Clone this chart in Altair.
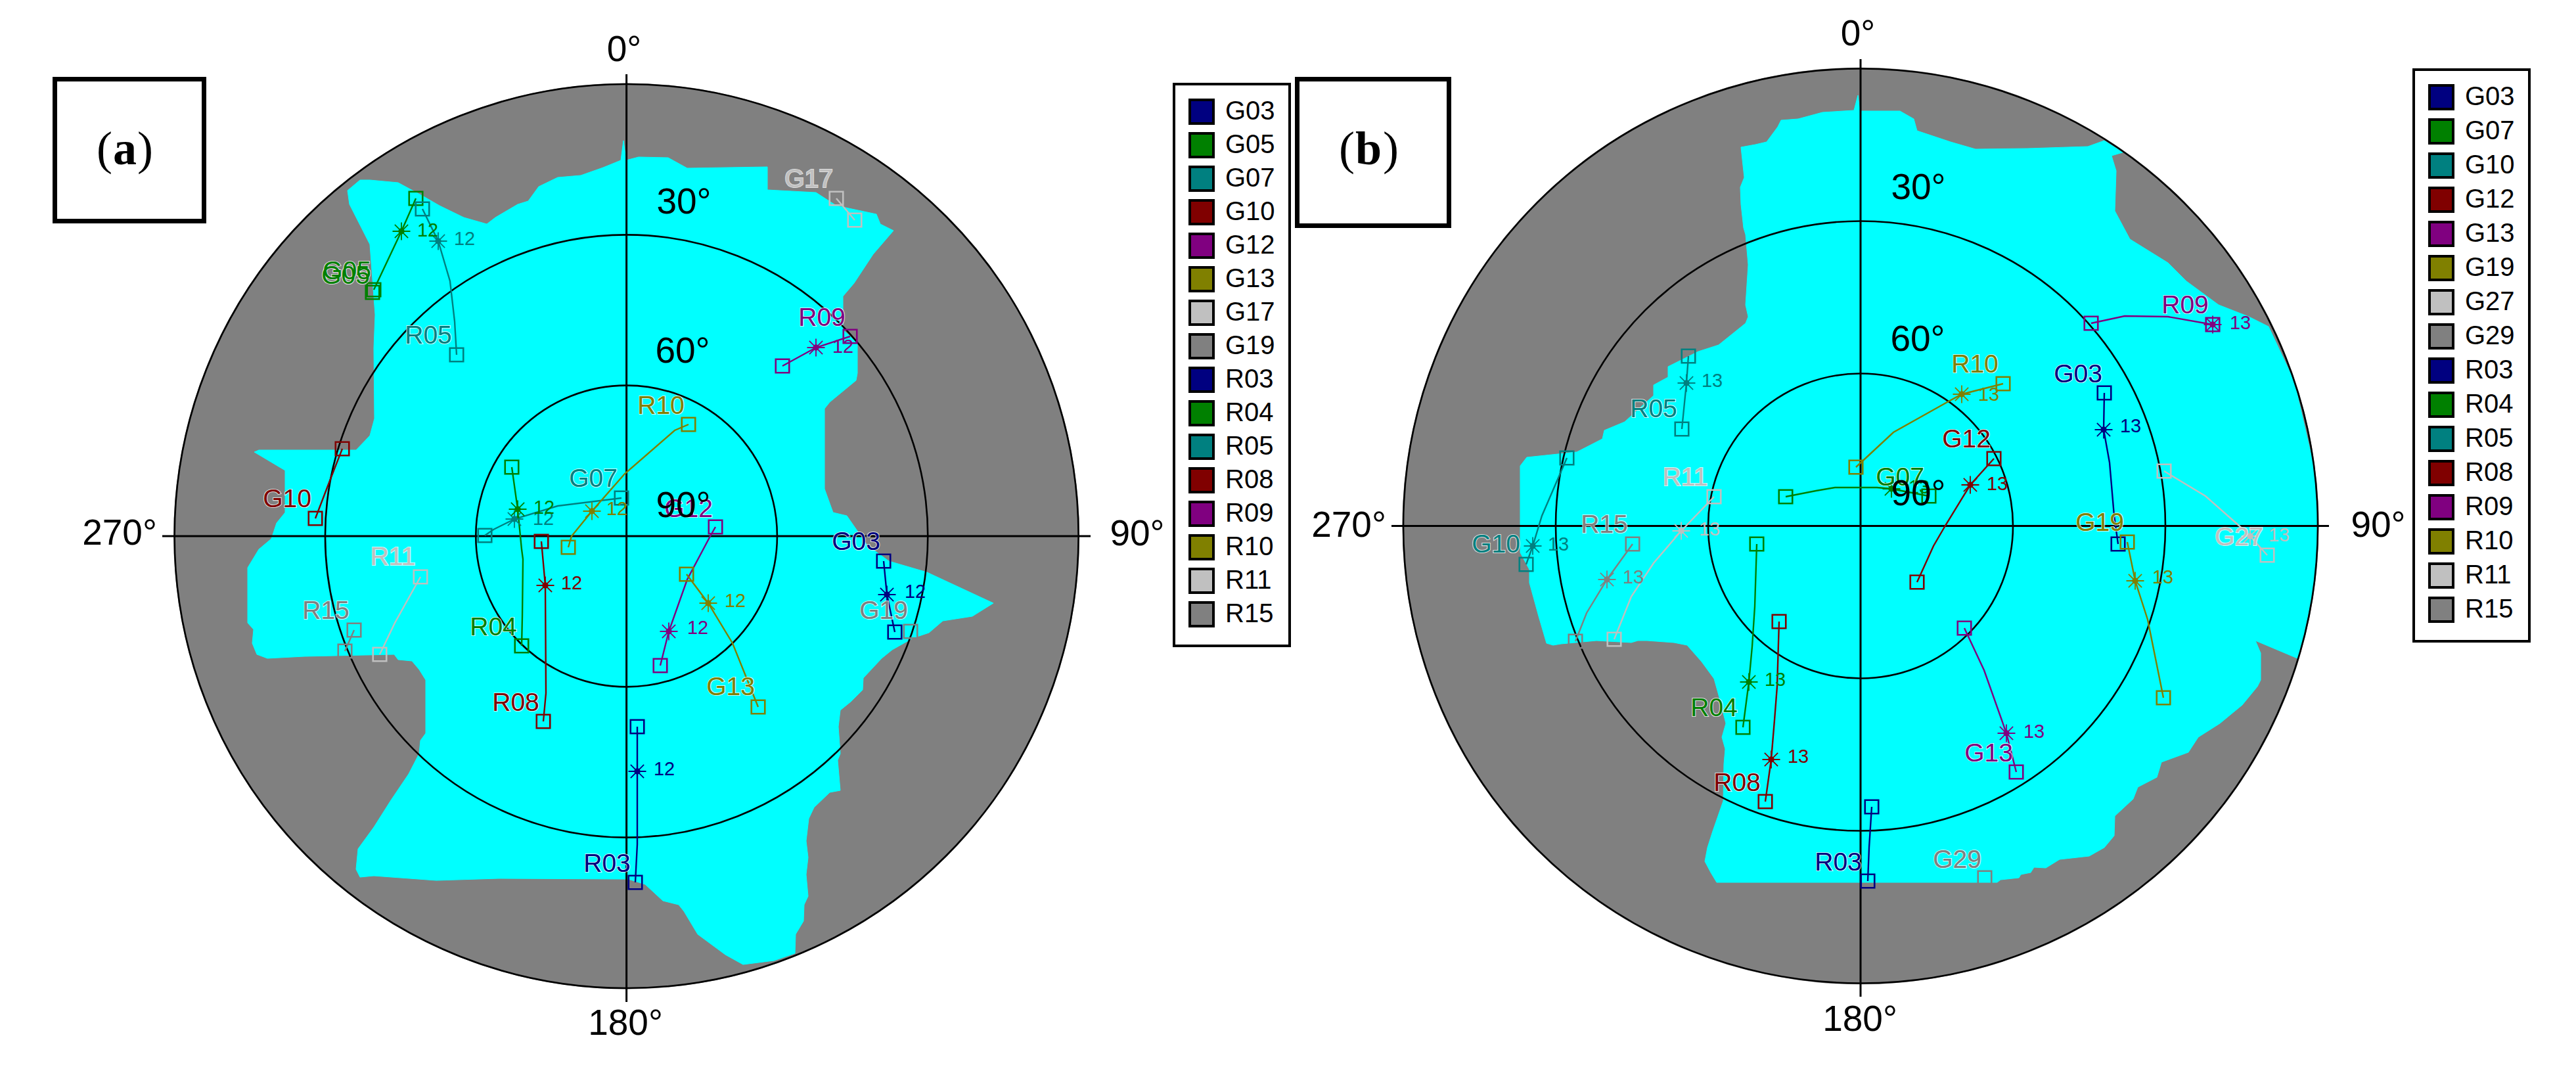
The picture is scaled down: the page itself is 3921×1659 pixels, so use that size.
import altair as alt
import pandas as pd

alt.data_transformers.disable_max_rows()

PALETTE = ["#000080", "#008000", "#008080", "#800000", "#800080", "#808000", "#C0C0C0", "#808080"]
SATS_A = ["G03", "G05", "G07", "G10", "G12", "G13", "G17", "G19", "R03", "R04", "R05", "R08", "R09", "R10", "R11", "R15"]
SATS_B = ["G03", "G07", "G10", "G12", "G13", "G19", "G27", "G29", "R03", "R04", "R05", "R08", "R09", "R10", "R11", "R15"]
COL_A = {s: PALETTE[i % 8] for i, s in enumerate(SATS_A)}
COL_B = {s: PALETTE[i % 8] for i, s in enumerate(SATS_B)}

CENTER_A = (953.6, 816.0)
CENTER_B = (2832.0, 800.5)
HORIZON_A = 688
HORIZON_B = 696
ELEVATIONS = [0, 30, 60]

SKY_A = [(949,214),(953,244),(972,239),(1017,240),(1046,256),(1168,254),(1168,289),(1242,293),(1273,313),(1334,326),
 (1340,341),(1360,351),(1329,387),(1300,431),(1283,451),(1283,502),(1305,522),(1305,568),(1303,579),(1263,612),(1255,622),
 (1255,744),(1268,780),(1289,785),(1305,808),(1320,830),(1353,854),(1411,871),(1512,918),(1480,938),(1435,945),(1414,963),
 (1390,971),(1358,989),(1342,1002),(1314,1032),(1313,1050),(1295,1068),(1279,1081),(1276,1106),(1279,1147),(1275,1157),
 (1279,1203),(1263,1206),(1239,1229),(1231,1246),(1227,1280),(1230,1305),(1227,1331),(1230,1364),(1224,1377),(1223,1402),
 (1211,1422),(1210,1451),(1178,1462),(1131,1468),(1104,1453),(1062,1422),(1041,1387),(1033,1377),(1009,1371),(982,1346),
 (956,1338),(759,1337),(664,1340),(569,1333),(548,1335),(542,1323),(545,1292),(569,1259),(595,1218),(622,1178),(638,1147),
 (640,1127),(648,1116),(648,1035),(638,1019),(627,1006),(606,1004),(600,996),(463,999),(407,1002),(391,996),(384,979),
 (386,958),(377,948),(377,864),(394,836),(413,820),(421,796),(434,780),(434,716),(387,688),(394,685),(542,685),(563,663),
 (570,637),(569,530),(571,479),(563,372),(532,311),(529,290),(548,274),(563,274),(606,278),(643,298),(669,313),(706,331),
 (741,341),(754,331),(788,311),(804,306),(820,284),(849,270),(884,267),(918,255),(945,244)]

SKY_B = [(2828,145),(2831,169),(2892,169),(2913,181),(2918,199),(2969,216),(3007,227),(3086,226),(3178,223),(3203,214),
 (3231,232),(3214,237),(3221,260),(3219,321),(3242,364),(3300,400),(3328,428),(3377,464),(3423,482),(3453,497),(3492,580),
 (3522,710),(3528,800),(3522,892),(3502,988),(3497,1002),(3433,975),(3441,994),(3441,1035),(3436,1045),(3413,1073),(3379,1101),
 (3346,1122),(3331,1145),(3290,1160),(3283,1183),(3254,1198),(3247,1216),(3219,1242),(3218,1272),(3203,1290),(3180,1303),
 (3135,1308),(3114,1321),(3096,1320),(3091,1328),(3076,1331),(3073,1336),(3045,1339),(3040,1343),(2613,1343),(2604,1328),
 (2595,1311),(2599,1290),(2607,1265),(2623,1219),(2624,1163),(2626,1140),(2621,1122),(2627,1101),(2616,1058),(2609,1033),
 (2590,1007),(2568,982),(2548,978),(2507,975),(2493,975),(2483,978),(2430,975),(2376,980),(2364,982),(2354,979),(2342,938),
 (2328,887),(2328,867),(2314,841),(2314,709),(2324,696),(2400,688),(2439,668),(2442,655),(2473,642),(2517,602),(2517,586),
 (2539,574),(2539,558),(2585,535),(2616,525),(2657,492),(2661,482),(2657,464),(2661,403),(2657,357),(2654,347),(2650,311),
 (2649,285),(2655,270),(2650,224),(2672,220),(2689,216),(2706,193),(2711,183),(2737,181),(2774,171),(2822,168)]

TRACK_A = {
 "G03": [(1345,854),(1350,905),(1362,962)],
 "G05": [(569,441),(611,352),(633,302)],
 "G05b": [(567,445)],
 "G07": [(946,758),(849,770),(783,790),(751,806),(738,815)],
 "G10": [(521,683),(503,729),(480,789)],
 "G12": [(1089,802),(1080,818),(1046,882),(1018,961),(1005,1013)],
 "G13": [(1045,874),(1078,918),(1115,979),(1154,1076)],
 "G17": [(1273,302),(1301,335)],
 "G19": [(1386,961)],
 "R03": [(970,1106),(970,1174),(970,1285),(967,1343)],
 "R04": [(779,711),(788,775),(794,836),(796,851),(795,938),(794,983)],
 "R05": [(643,318),(667,367),(685,428),(692,489),(695,540)],
 "R08": [(824,824),(830,891),(831,1055),(827,1098)],
 "R09": [(1294,512),(1242,529),(1191,557)],
 "R10": [(1048,646),(1027,655),(951,721),(901,778),(870,816),(865,833)],
 "R11": [(640,878),(601,948),(578,996)],
 "R15": [(539,959),(525,991)],
}
STAR_A = {"G03":(1350,905),"G05":(611,352),"G07":(783,790),"G12":(1018,961),"G13":(1078,918),"R03":(970,1174),
 "R04":(788,775),"R05":(667,367),"R08":(830,891),"R09":(1242,529),"R10":(901,778)}
NUM_A = {"G03":(1393,901),"G05":(651,351),"G07":(827,790),"G12":(1062,956),"G13":(1119,915),"R03":(1011,1171),
 "R04":(828,773),"R05":(707,364),"R08":(870,888),"R09":(1283,528),"R10":(939,775)}
LABEL_A = [("G03",1303,825),("G05",526,420),("G05",528,413),("G07",903,729),("G10",437,760),("G12",1048,775),("G13",1112,1046),
 ("G17",1231,273),("G19",1345,930),("R03",924,1315),("R04",751,955),("R05",652,511),("R08",785,1070),("R09",1251,484),
 ("R10",1006,618),("R11",598,848),("R15",496,930)]

TRACK_B = {
 "G03": [(3203,598),(3202,654),(3211,704),(3218,785),(3224,828)],
 "G07": [(2718,756),(2764,747),(2793,742),(2857,742),(2879,744),(2936,755)],
 "G10": [(2385,697),(2347,785),(2333,831),(2323,859)],
 "G12": [(3035,698),(2999,738),(2961,800),(2943,831),(2918,886)],
 "G13": [(2990,956),(3020,1020),(3054,1116),(3069,1175)],
 "G19": [(3238,825),(3250,884),(3269,943),(3293,1062)],
 "G27": [(3294,717),(3357,755),(3408,800),(3425,816),(3451,845)],
 "G29": [(3021,1336)],
 "R03": [(2849,1228),(2845,1290),(2843,1341)],
 "R04": [(2674,828),(2671,923),(2667,984),(2662,1038),(2653,1107)],
 "R05": [(2570,542),(2567,583),(2560,653)],
 "R08": [(2708,946),(2705,1045),(2701,1096),(2696,1156),(2687,1220)],
 "R09": [(3183,492),(3234,481),(3300,482),(3368,494)],
 "R10": [(3049,584),(2986,600),(2964,612),(2882,658),(2825,711)],
 "R11": [(2609,756),(2559,808),(2517,857),(2483,908),(2457,973)],
 "R15": [(2485,828),(2446,882),(2415,933),(2398,976)],
}
STAR_B = {"G03":(3202,654),"G07":(2879,744),"G10":(2333,831),"G12":(2999,738),"G13":(3054,1116),"G19":(3250,884),
 "G27":(3425,816),"R04":(2662,1038),"R05":(2567,583),"R08":(2696,1156),"R09":(3368,494),"R10":(2986,600),"R11":(2559,808),"R15":(2446,882)}
NUM_B = {"G03":(3243,649),"G07":(2921,742),"G10":(2372,829),"G12":(3040,737),"G13":(3096,1114),"G19":(3292,879),
 "G27":(3469,815),"R04":(2702,1035),"R05":(2606,580),"R08":(2737,1152),"R09":(3410,492),"R10":(3027,601),"R11":(2602,806),"R15":(2486,879)}
LABEL_B = [("G03",3163,570),("G07",2892,727),("G10",2277,829),("G12",2993,669),("G13",3027,1147),("G19",3196,796),("G27",3408,818),
 ("G29",2979,1309),("R03",2798,1313),("R04",2609,1078),("R05",2517,623),("R08",2644,1192),("R09",3326,465),("R10",3006,555),
 ("R11",2565,727),("R15",2442,799)]

DEGREES = [("0°",950,76),("30°",1041,308),("60°",1039,535),("90°",1040,770),("180°",952,1558),("270°",182,812),("90°",1731,813),
 ("0°",2828,52),("30°",2920,286),("60°",2919,517),("90°",2920,752),("180°",2831,1552),("270°",2053,800),("90°",3620,800)]

X = alt.Scale(domain=[8, 3913], nice=False, zero=False)
Y = alt.Scale(domain=[1651, 8], nice=False, zero=False)
ex = lambda f="x": alt.X(f + ":Q", scale=X, axis=None)
ey = lambda f="y": alt.Y(f + ":Q", scale=Y, axis=None)
SANS = "Liberation Sans"
SERIF = "Liberation Serif"

def sky_rows(name, pts):
    return [{"p": name, "i": i, "x": x, "y": y} for i, (x, y) in enumerate(pts)]

rings, discs = [], []
for (cx, cy), R in ((CENTER_A, HORIZON_A), (CENTER_B, HORIZON_B)):
    discs.append({"x": cx, "y": cy, "s": (2 * R + 3) ** 2})
    for el in ELEVATIONS:
        rad = R * (90 - el) / 90
        rings.append({"x": cx, "y": cy, "s": (2 * rad) ** 2})
rules = [
 {"x": 247, "x2": 1660, "y": 816, "y2": 816}, {"x": 953.6, "x2": 953.6, "y": 113, "y2": 1525},
 {"x": 2118, "x2": 3545, "y": 800.5, "y2": 800.5}, {"x": 2832, "x2": 2832, "y": 90, "y2": 1517},
]

lines, ends, stars, nums, labels = [], [], [], [], []
for track, star, num, lab, col, tag in ((TRACK_A, STAR_A, NUM_A, LABEL_A, COL_A, "12"), (TRACK_B, STAR_B, NUM_B, LABEL_B, COL_B, "13")):
    for sat, pts in track.items():
        c = col[sat[:3]]
        key = tag + sat
        for i, (x, y) in enumerate(pts):
            lines.append({"k": key, "i": i, "x": x, "y": y, "c": c})
        for (x, y) in {pts[0], pts[-1]}:
            ends.append({"x": x, "y": y, "c": c})
    for sat, (x, y) in star.items():
        stars.append({"x": x, "y": y, "c": col[sat]})
    for sat, (x, y) in num.items():
        nums.append({"x": x, "y": y, "c": col[sat], "t": tag})
    for t, x, y in lab:
        labels.append({"x": x, "y": y, "c": col[t], "t": t})

ASTERISK = "M-1,0H1M0,-1V1M-0.75,-0.75L0.75,0.75M-0.75,0.75L0.75,-0.75"
color = alt.Color("c:N", scale=None)

disc_l = alt.Chart(alt.Data(values=discs)).mark_circle(color="#808080", opacity=1).encode(
    x=ex(), y=ey(), size=alt.Size("s:Q", scale=None))
sky_l = alt.Chart(alt.Data(values=sky_rows("a", SKY_A) + sky_rows("b", SKY_B))).mark_line(
    interpolate="linear-closed", fill="#00FFFF", stroke="#00FFFF", strokeWidth=1).encode(
    x=ex(), y=ey(), detail="p:N", order="i:Q")
ring_l = alt.Chart(alt.Data(values=rings)).mark_point(shape="circle", filled=False, color="black", opacity=1, strokeWidth=2.6).encode(
    x=ex(), y=ey(), size=alt.Size("s:Q", scale=None))
rule_l = alt.Chart(alt.Data(values=rules)).mark_rule(color="black", strokeWidth=3).encode(
    x=ex(), x2="x2:Q", y=ey(), y2="y2:Q")
line_l = alt.Chart(alt.Data(values=lines)).mark_line(strokeWidth=2.4).encode(
    x=ex(), y=ey(), detail="k:N", order="i:Q", color=color)
end_l = alt.Chart(alt.Data(values=ends)).mark_point(shape="square", filled=False, size=420, strokeWidth=2.6, opacity=1).encode(
    x=ex(), y=ey(), color=color)
star_l = alt.Chart(alt.Data(values=stars)).mark_point(shape=ASTERISK, filled=False, size=729, strokeWidth=1.8, opacity=1).encode(
    x=ex(), y=ey(), color=color)
dot_l = alt.Chart(alt.Data(values=stars)).mark_circle(size=90, opacity=1).encode(
    x=ex(), y=ey(), color=color)
num_l = alt.Chart(alt.Data(values=nums)).mark_text(font=SANS, fontSize=29, align="center", baseline="middle").encode(
    x=ex(), y=ey(), text="t:N", color=color)
halo_l = alt.Chart(alt.Data(values=labels)).mark_text(font=SANS, fontSize=39, align="center", baseline="middle",
    stroke="white", strokeWidth=2.2, strokeOpacity=0.75).encode(x=ex(), y=ey(), text="t:N")
label_l = alt.Chart(alt.Data(values=labels)).mark_text(font=SANS, fontSize=39, align="center", baseline="middle").encode(
    x=ex(), y=ey(), text="t:N", color=color)
deg_l = alt.Chart(alt.Data(values=[{"t": t, "x": x, "y": y} for t, x, y in DEGREES])).mark_text(
    font=SANS, fontSize=55, align="center", baseline="middle", color="black").encode(x=ex(), y=ey(), text="t:N")

boxes = [{"x": 83.5, "x2": 310.5, "y": 120.5, "y2": 336.5}, {"x": 1974.5, "x2": 2205.5, "y": 120.5, "y2": 343.5}]
box_l = alt.Chart(alt.Data(values=boxes)).mark_rect(fill="white", stroke="black", strokeWidth=7).encode(
    x=ex(), x2="x2:Q", y=ey(), y2="y2:Q")
plain = [{"t": "(", "x": 159, "y": 250}, {"t": ")", "x": 221, "y": 250}, {"t": "(", "x": 2050, "y": 250}, {"t": ")", "x": 2117, "y": 250}]
bold = [{"t": "a", "x": 190, "y": 250}, {"t": "b", "x": 2083, "y": 250}]
plain_l = alt.Chart(alt.Data(values=plain)).mark_text(font=SERIF, fontSize=72, align="center", baseline="alphabetic", color="black").encode(
    x=ex(), y=ey(), text="t:N")
bold_l = alt.Chart(alt.Data(values=bold)).mark_text(font=SERIF, fontSize=72, fontWeight="bold", align="center", baseline="alphabetic", color="black").encode(
    x=ex(), y=ey(), text="t:N")

def legend_layer(sats, col, lx, ly, row):
    leg = alt.Legend(title=None, orient="none", legendX=lx, legendY=ly, symbolType="square", symbolSize=1296,
                     symbolStrokeColor="black", symbolStrokeWidth=4, labelFont=SANS, labelFontSize=40, labelColor="black",
                     labelOffset=16, padding=22, rowPadding=row, strokeColor="black", symbolLimit=0, labelLimit=200)
    return alt.Chart(alt.Data(values=[{"s": s} for s in sats])).mark_square(size=0, opacity=1).encode(
        color=alt.Color("s:N", sort=sats, legend=leg, scale=alt.Scale(domain=sats, range=[col[s] for s in sats])))

chart = alt.layer(
    disc_l, sky_l, ring_l, rule_l, line_l, end_l, star_l, dot_l, num_l, halo_l, label_l, deg_l,
    box_l, plain_l, bold_l,
    legend_layer(SATS_A, COL_A, 1779, 120, -1),
    legend_layer(SATS_B, COL_B, 3666, 98, 0),
).resolve_scale(color="independent").properties(
    width=3905, height=1643, padding=0, autosize=alt.AutoSizeParams(type="none"),
).configure_view(stroke=None).configure_legend(strokeWidth=4)

chart.save("out.html", embed_options={"renderer": "svg", "actions": False})
